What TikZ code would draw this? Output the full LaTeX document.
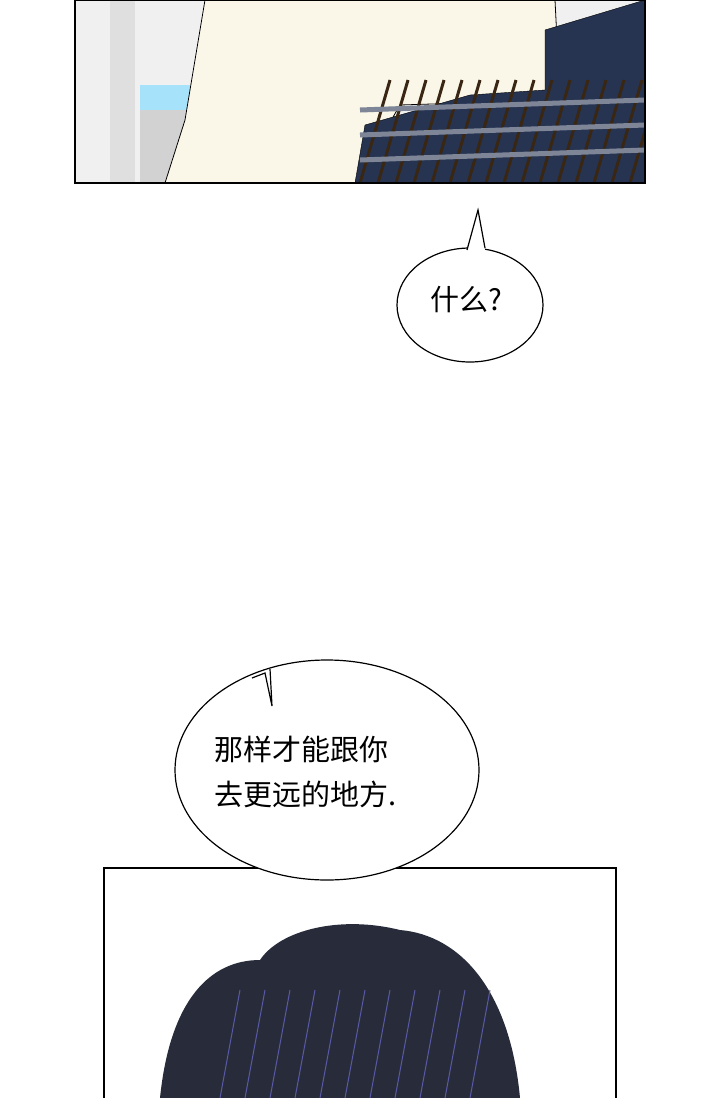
\documentclass[tikz,border=0pt]{standalone}
\usepackage{fontspec}
\usetikzlibrary{shapes.geometric}
\newfontfamily\cjk{Noto Sans CJK SC}
\definecolor{navy}{RGB}{38,52,82}
\definecolor{cream}{RGB}{250,246,232}
\definecolor{hair}{RGB}{40,44,58}
\begin{document}
\begin{tikzpicture}[x=1pt,y=-1pt,
  panel/.style={draw=black,line width=2pt},
  bubble/.style={draw=black,line width=1.2pt,fill=white},
  speech/.style={font=\cjk\fontsize{29}{45}\selectfont,align=left,inner sep=0pt}]
\useasboundingbox (0,0) rectangle (720,1098);
% top panel
\begin{scope}
\clip (75,0) rectangle (645,183);
\fill[gray!12] (75,0) rectangle (645,183);
\fill[gray!25] (110,0) rectangle (135,183);
\fill[cyan!35] (140,85) rectangle (190,110);
\fill[gray!35] (140,110) rectangle (190,183);
\fill[cream,draw=black,line width=0.8pt] (205,0) -- (555,0) -- (560,100) -- (400,105) -- (355,183) -- (165,183) -- (185,120) -- cycle;
\fill[navy,draw=black] (545,30) -- (645,0) -- (645,183) -- (355,183) -- (365,125) -- (470,95) -- (545,90) -- cycle;
\foreach \i in {0,...,16}{\draw[black!70!brown,line width=3pt] (360+\i*18,183) -- (390+\i*18,80);}
\foreach \y in {110,135,160}{\draw[navy!60!white,line width=5pt] (360,\y) -- (645,\y-10);}
\end{scope}
\draw[panel] (75,0) rectangle (645,183);
% bottom panel
\begin{scope}
\clip (104,868) rectangle (616,1098);
\fill[white] (104,868) rectangle (616,1098);
\fill[hair] (160,1098) .. controls (170,1000) and (210,960) .. (260,960)
  .. controls (280,930) and (340,915) .. (400,930)
  .. controls (460,935) and (510,990) .. (520,1098) -- cycle;
\foreach \i in {0,...,10}{\draw[gray!70!blue,line width=1pt] (220+\i*25,1098) -- (240+\i*25,990);}
\end{scope}
\draw[panel] (104,1098) -- (104,868) -- (616,868) -- (616,1098);
% bubble 1
\node[bubble,ellipse,minimum width=146pt,minimum height=114pt] (b1) at (470,305) {};
\coordinate (t1) at (478,210);
\fill[white] (467,252) -- (t1) -- (485,250) -- cycle;
\draw[line width=1.2pt] (467,250) -- (t1) -- (485,248);
\node[speech] (s1) at (466,300) {什么?};
% bubble 2
\node[bubble,ellipse,minimum width=304pt,minimum height=220pt] (b2) at (327,770) {};
\coordinate (t2) at (272,706);
\fill[white] (252,680) -- (t2) -- (282,668) -- (268,672) -- cycle;
\draw[line width=1.2pt] (252,678) -- (265,673) -- (t2) -- (270,669);
\node[speech,anchor=west] (s2) at (214,772) {那样才能跟你\\去更远的地方.};
\end{tikzpicture}
\end{document}
